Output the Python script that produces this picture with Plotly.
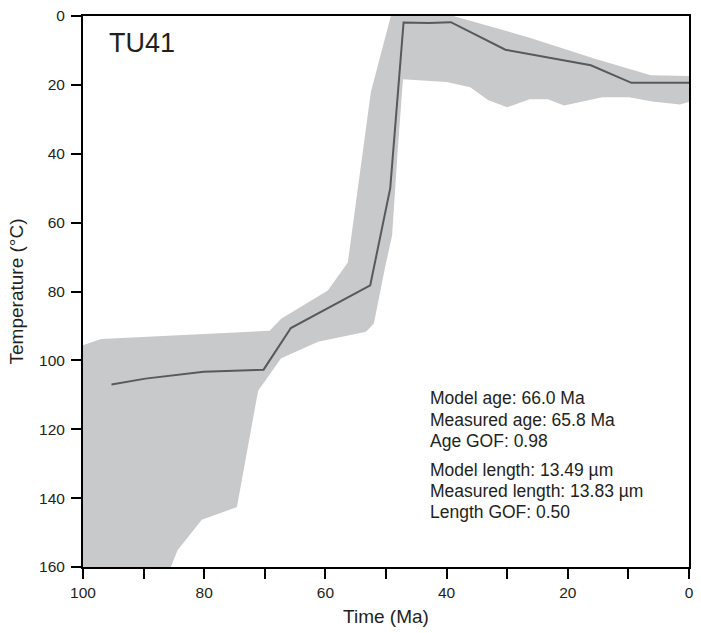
import plotly.graph_objects as go

# Best-fit thermal history path (time in Ma, temperature in °C)
path_time = [95.3, 89.7, 80.1, 70.2, 65.7, 52.6, 49.3, 47.1, 43.0, 39.3, 30.3, 16.2, 9.5, 0.0]
path_temp = [107.0, 105.3, 103.3, 102.7, 90.6, 78.2, 50.0, 1.9, 2.0, 1.8, 9.8, 14.3, 19.4, 19.4]

# Envelope of acceptable paths (closed polygon)
env_time = [100.0, 97.0, 69.2, 67.3, 59.6, 56.3, 52.5, 49.2, 38.9, 26.3, 15.4, 6.3, 0.0,
            0.0, 1.5, 6.1, 9.9, 14.3, 20.6, 23.3, 26.3, 30.0, 33.1, 36.1, 40.0, 47.2,
            48.1, 49.0, 50.1, 52.0, 53.3, 61.2, 67.3, 71.1, 74.6, 80.4, 84.4, 85.5, 100.0]
env_temp = [95.6, 93.8, 91.4, 87.9, 79.7, 71.6, 22.1, 0.0, 0.0, 6.3, 12.5, 17.2, 17.4,
            25.0, 25.7, 24.8, 23.6, 23.6, 26.0, 24.2, 24.2, 26.5, 24.5, 20.7, 19.2, 18.4,
            39.9, 63.8, 72.5, 89.3, 91.7, 94.6, 99.4, 108.8, 142.6, 146.3, 155.1, 160.0, 160.0]

x_ticks = list(range(0, 101, 10))
x_ticktext = [str(v) if v % 20 == 0 else "" for v in x_ticks]
y_ticks = list(range(0, 161, 20))

sample_name = "TU41"
stats_lines = [
    "Model age: 66.0 Ma",
    "Measured age: 65.8 Ma",
    "Age GOF: 0.98",
    "Model length: 13.49 µm",
    "Measured length: 13.83 µm",
    "Length GOF: 0.50",
]

FONT = "Liberation Sans, Arial, sans-serif"
TXT = "#231f20"

fig = go.Figure()
fig.add_trace(go.Scatter(
    x=env_time, y=env_temp, mode="lines", fill="toself",
    fillcolor="#c8c9cb", line=dict(width=0, color="#c8c9cb"),
    hoverinfo="skip", showlegend=False,
))
fig.add_trace(go.Scatter(
    x=path_time, y=path_temp, mode="lines",
    line=dict(color="#58595b", width=2), showlegend=False,
))

axis_common = dict(
    showgrid=False, zeroline=False, showline=True, linecolor="black",
    linewidth=2, mirror=True, ticks="outside", ticklen=10, tickwidth=2,
    tickcolor="black", tickfont=dict(family=FONT, size=15.5, color=TXT),
)

fig.update_xaxes(
    range=[100, 0], tickvals=x_ticks, ticktext=x_ticktext,
    title=dict(text="Time (Ma)", font=dict(family=FONT, size=19, color=TXT), standoff=10),
    **axis_common,
)
fig.update_yaxes(
    range=[160, 0], tickvals=y_ticks, ticklabelstandoff=3,
    title=dict(text="Temperature (°C)", font=dict(family=FONT, size=19, color=TXT), standoff=10),
    **axis_common,
)

fig.add_annotation(
    text=sample_name, xref="paper", yref="paper", x=0.040, y=0.951,
    xanchor="left", yanchor="middle", showarrow=False,
    font=dict(family=FONT, size=27, color=TXT),
)

line_y = [397, 418.5, 440, 469, 490.5, 512]
for txt, py in zip(stats_lines, line_y):
    fig.add_annotation(
        text=txt, xref="paper", yref="paper",
        x=(430.5 - 83) / 611, y=(567 - py) / 555,
        xanchor="left", yanchor="middle", showarrow=False,
        font=dict(family=FONT, size=17.5, color=TXT),
    )

fig.update_layout(
    width=701, height=633,
    margin=dict(l=83, r=7, t=12, b=66),
    plot_bgcolor="white", paper_bgcolor="white",
    font=dict(family=FONT, color=TXT),
)

fig.write_html("out.html")
